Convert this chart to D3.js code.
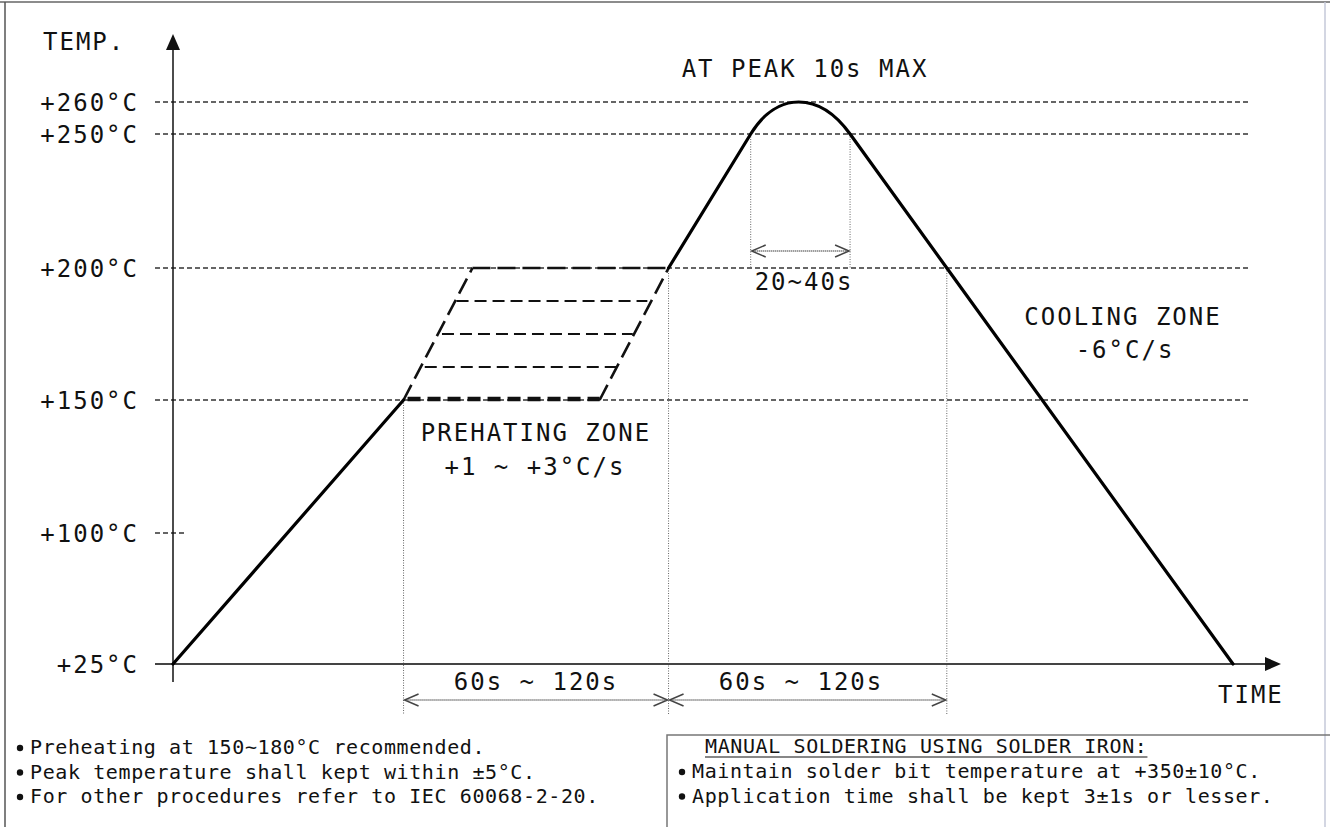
<!DOCTYPE html>
<html><head><meta charset="utf-8">
<script src="https://cdn.jsdelivr.net/npm/d3@7"></script>
<style>body{margin:0;background:#fff;overflow:hidden}</style>
</head><body><svg id="c" width="1330" height="827"></svg>
<script>
// ---------- data ----------
const tempTicks = [25, 100, 150, 200, 250, 260];
const tempTickLabels = ["+25°C", "+100°C", "+150°C", "+200°C", "+250°C", "+260°C"];
const gridTemps = [150, 200, 250, 260];
const shortGridTemps = [100];
// reflow profile (time units, °C)
const rampUpTime = [0, 87];
const rampUpTemp = [25, 150];
const reflowTime = [187, 218];
const reflowTemp = [200, 250];
const peakTime = [218, 237, 255.5];
const peakTemp = [250, 260, 250];
const coolTime = [255.5, 292, 400];
const coolTemp = [250, 200, 25];
// preheat zone (dashed parallelogram)
const preheatEdgeStart = [87, 161];      // at 150°C
const preheatEdgeEnd = [113, 187];       // at 200°C
const preheatInnerTemps = [162.5, 175, 187.5];
const preheatInnerStart = [95, 101.5, 107];
const preheatInnerEnd = [168, 173.5, 179];
// time markers
const zoneMarkTimes = [87, 187, 292];
const peakMarkTimes = [218, 255.5];
const zoneLabels = ["60s ~ 120s", "60s ~ 120s"];
const notesLeft = [
  "Preheating at 150~180°C recommended.",
  "Peak temperature shall kept within ±5°C.",
  "For other procedures refer to IEC 60068-2-20."
];
const notesRightTitle = "MANUAL SOLDERING USING SOLDER IRON:";
const notesRight = [
  "Maintain solder bit temperature at +350±10°C.",
  "Application time shall be kept 3±1s or lesser."
];

// ---------- scales ----------
const svg = d3.select("#c");
const x = d3.scaleLinear().domain([0, 400]).range([173, 1233]);
const y = d3.scaleLinear().domain(tempTicks).range([664, 533, 400, 268, 134, 102]);

const FONT = "DejaVu Sans Mono";
const NOTE_FONT = "DejaVu Sans Mono";

// frame
svg.append("line").attr("x1", 0).attr("x2", 1330).attr("y1", 2).attr("y2", 2).attr("stroke", "#666").attr("stroke-width", 1.5);
svg.append("line").attr("x1", 5).attr("x2", 5).attr("y1", 2).attr("y2", 827).attr("stroke", "#555").attr("stroke-width", 1.5);
svg.append("line").attr("x1", 1325).attr("x2", 1325).attr("y1", 2).attr("y2", 827).attr("stroke", "#c4c8d8").attr("stroke-width", 1.5);

// grid lines
svg.selectAll(".grid").data(gridTemps).join("line")
  .attr("x1", 155).attr("x2", 1250)
  .attr("y1", d => y(d)).attr("y2", d => y(d))
  .attr("stroke", "#333").attr("stroke-width", 1.3).attr("stroke-dasharray", "5,3");
svg.selectAll(".sgrid").data(shortGridTemps).join("line")
  .attr("x1", 155).attr("x2", 186)
  .attr("y1", d => y(d)).attr("y2", d => y(d))
  .attr("stroke", "#333").attr("stroke-width", 1.3).attr("stroke-dasharray", "5,3");

// y labels
svg.selectAll(".ylab").data(tempTicks).join("text")
  .attr("x", 139).attr("y", d => y(d) + 8.5)
  .attr("text-anchor", "end")
  .attr("font-family", FONT).attr("font-size", 24).attr("letter-spacing", 2)
  .attr("fill", "#111")
  .text((d, i) => tempTickLabels[i]);

// vertical dotted markers
const dotted = {stroke: "#666", w: 1, dash: "1,1.5"};
svg.append("line").attr("x1", x(zoneMarkTimes[0])).attr("x2", x(zoneMarkTimes[0]))
  .attr("y1", y(150)).attr("y2", 715).attr("stroke", dotted.stroke).attr("stroke-width", dotted.w).attr("stroke-dasharray", dotted.dash);
svg.append("line").attr("x1", x(zoneMarkTimes[1])).attr("x2", x(zoneMarkTimes[1]))
  .attr("y1", y(200)).attr("y2", 715).attr("stroke", dotted.stroke).attr("stroke-width", dotted.w).attr("stroke-dasharray", dotted.dash);
svg.append("line").attr("x1", x(zoneMarkTimes[2])).attr("x2", x(zoneMarkTimes[2]))
  .attr("y1", y(200)).attr("y2", 715).attr("stroke", dotted.stroke).attr("stroke-width", dotted.w).attr("stroke-dasharray", dotted.dash);
peakMarkTimes.forEach(t => {
  svg.append("line").attr("x1", x(t)).attr("x2", x(t))
    .attr("y1", y(250)).attr("y2", y(200)).attr("stroke", dotted.stroke).attr("stroke-width", dotted.w).attr("stroke-dasharray", dotted.dash);
});

// axes
svg.append("line").attr("x1", 155).attr("x2", 1268).attr("y1", y(25)).attr("y2", y(25))
  .attr("stroke", "#444").attr("stroke-width", 2);
svg.append("path").attr("d", `M1281,${y(25)} L1265,${y(25) - 7} L1265,${y(25) + 7} Z`).attr("fill", "#111");
svg.append("line").attr("x1", x(0)).attr("x2", x(0)).attr("y1", 682).attr("y2", 48)
  .attr("stroke", "#111").attr("stroke-width", 1.5);
svg.append("path").attr("d", `M${x(0)},34 L${x(0) - 7},50 L${x(0) + 7},50 Z`).attr("fill", "#111");

svg.append("text").attr("x", 43).attr("y", 50).attr("font-family", FONT).attr("font-size", 24).attr("letter-spacing", 2).attr("fill", "#111").text("TEMP.");
svg.append("text").attr("x", 1218).attr("y", 703).attr("font-family", FONT).attr("font-size", 24).attr("letter-spacing", 2).attr("fill", "#111").text("TIME");

// preheat parallelogram
const pre = svg.append("g").attr("fill", "none").attr("stroke", "#111");
preheatEdgeStart.forEach((t, i) => {
  pre.append("line").attr("x1", x(t)).attr("y1", y(150)).attr("x2", x(preheatEdgeEnd[i])).attr("y2", y(200))
    .attr("stroke-width", 2.6).attr("stroke-dasharray", "17,7");
});
pre.append("line").attr("x1", x(preheatEdgeEnd[0])).attr("x2", x(preheatEdgeEnd[1])).attr("y1", y(200)).attr("y2", y(200))
  .attr("stroke-width", 2.4).attr("stroke-dasharray", "18,7");
pre.append("line").attr("x1", x(preheatEdgeStart[0]) + 4).attr("x2", x(preheatEdgeStart[1])).attr("y1", y(150) - 1).attr("y2", y(150) - 1)
  .attr("stroke-width", 4.5).attr("stroke-dasharray", "13,7");
preheatInnerTemps.forEach((tp, i) => {
  pre.append("line").attr("x1", x(preheatInnerStart[i])).attr("x2", x(preheatInnerEnd[i]))
    .attr("y1", y(tp)).attr("y2", y(tp)).attr("stroke-width", 1.8).attr("stroke-dasharray", "12,6");
});

// profile solid lines
const line = d3.line().x(d => x(d[0])).y(d => y(d[1]));
svg.append("path").attr("d", line(d3.zip(rampUpTime, rampUpTemp)))
  .attr("fill", "none").attr("stroke", "#000").attr("stroke-width", 3.2).attr("stroke-linecap", "round");

const p = d3.path();
const P0 = [x(reflowTime[1]), y(reflowTemp[1])];
const Pprev = [x(reflowTime[0]), y(reflowTemp[0])];
const P3 = [x(peakTime[2]), y(peakTemp[2])];
const Pnext = [x(coolTime[1]), y(coolTemp[1])];
const v0 = [P0[0] - Pprev[0], P0[1] - Pprev[1]];
const v3 = [Pnext[0] - P3[0], Pnext[1] - P3[1]];
const yTop = y(peakTemp[1]);
const k = 8 * (yTop - P0[1]) / (3 * (v0[1] - v3[1]));
p.moveTo(Pprev[0], Pprev[1]);
p.lineTo(P0[0], P0[1]);
p.bezierCurveTo(P0[0] + k * v0[0], P0[1] + k * v0[1], P3[0] - k * v3[0], P3[1] - k * v3[1], P3[0], P3[1]);
coolTime.slice(1).forEach((t, i) => p.lineTo(x(t), y(coolTemp[i + 1])));
svg.append("path").attr("d", p.toString())
  .attr("fill", "none").attr("stroke", "#000").attr("stroke-width", 3.2).attr("stroke-linejoin", "round").attr("stroke-linecap", "round");

// double arrows
function dblArrow(x1, x2, yy, head) {
  const g = svg.append("g").attr("stroke", "#444").attr("fill", "none");
  g.append("line").attr("x1", x1 + 2).attr("x2", x2 - 2).attr("y1", yy).attr("y2", yy)
    .attr("stroke-width", 1.6).attr("stroke-dasharray", "1,1");
  g.append("path").attr("d", `M${x1 + head},${yy - 6} L${x1 + 1},${yy} L${x1 + head},${yy + 6}`).attr("stroke-width", 1.5);
  g.append("path").attr("d", `M${x2 - head},${yy - 6} L${x2 - 1},${yy} L${x2 - head},${yy + 6}`).attr("stroke-width", 1.5);
}
dblArrow(x(zoneMarkTimes[0]), x(zoneMarkTimes[1]), 700, 15);
dblArrow(x(zoneMarkTimes[1]), x(zoneMarkTimes[2]), 700, 15);
dblArrow(x(peakMarkTimes[0]), x(peakMarkTimes[1]), 251, 15);

const label = (tx, ty, s) => svg.append("text").attr("x", tx).attr("y", ty).attr("text-anchor", "middle")
  .attr("font-family", FONT).attr("font-size", 24).attr("letter-spacing", 2).attr("fill", "#111").text(s);
label(536, 690, zoneLabels[0]);
label(801, 690, zoneLabels[1]);
label(805, 77, "AT PEAK 10s MAX");
label(804, 290, "20~40s");
label(536, 441, "PREHATING ZONE");
label(535, 475, "+1 ~ +3°C/s");
label(1123, 325, "COOLING ZONE");
label(1125, 358, "-6°C/s");

// notes
const nl = svg.append("g").attr("font-family", NOTE_FONT).attr("font-size", 20).attr("letter-spacing", 0.6).attr("fill", "#111");
notesLeft.forEach((s, i) => {
  nl.append("circle").attr("cx", 20).attr("cy", 748 + i * 24.5).attr("r", 3.2).attr("fill", "#111");
  nl.append("text").attr("x", 30).attr("y", 754 + i * 24.5).text(s);
});
svg.append("rect").attr("x", 667).attr("y", 735).attr("width", 700).attr("height", 120)
  .attr("fill", "none").attr("stroke", "#777").attr("stroke-width", 1.5);
const title = nl.append("text").attr("x", 705).attr("y", 753).text(notesRightTitle);
const tw = title.node().getComputedTextLength();
nl.append("line").attr("x1", 705).attr("x2", 705 + tw).attr("y1", 757).attr("y2", 757).attr("stroke", "#111").attr("stroke-width", 1.2);
notesRight.forEach((s, i) => {
  nl.append("circle").attr("cx", 682).attr("cy", 772 + i * 24.5).attr("r", 3.2).attr("fill", "#111");
  nl.append("text").attr("x", 692).attr("y", 778 + i * 24.5).text(s);
});
</script></body></html>
